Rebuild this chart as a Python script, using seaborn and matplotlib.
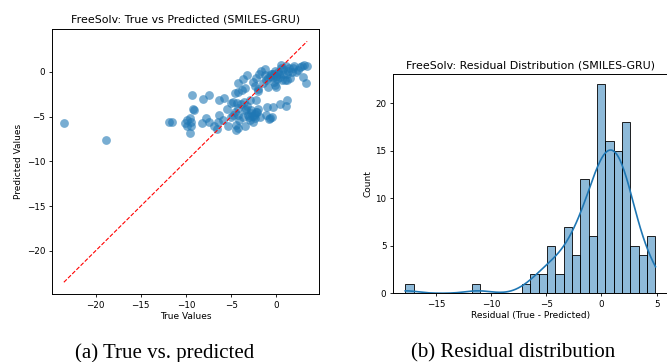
import numpy as np
import pandas as pd
import matplotlib
matplotlib.use("Agg")
import matplotlib.pyplot as plt
import seaborn as sns

# ---- data ----
true_values = [
    -23.5, -18.8,
    -11.9, -11.5, -9.3, -9.2, -9.1, -8.1, -7.4, -9.9, -9.6, -9.4,
    -9.9, -9.4, -9.6, -8.2, -7.8, -7.4, -6.9, -6.6, -6.5, -6.3,
    -5.8, -10.1, -6.3, -5.9, -5.5, -5.3, -5.0, -5.0, -4.5, -4.6,
    -4.3, -4.2, -3.7, -3.2, -4.8, -4.4, -4.5, -4.6, -4.8, -3.8,
    -3.5, -2.6, -2.3, -1.9, -1.7, -2.4, -1.3, -1.3, -1.5, -0.9,
    -0.6, -0.4, -0.3, -0.1, 0.0, 0.2, 0.4, 0.5, 0.5, 0.7,
    1.1, 1.3, 1.5, 1.8, 2.0, 2.4, 2.8, 3.1, 2.9, 3.3,
    -0.2, -0.9, -1.1, 0.9, 0.0, 0.3, 1.2, 1.2, 1.4, 1.7,
    2.2, 3.4, 2.6, -0.5, 0.7, -0.3, 0.1, -0.7, 0.6, -2.0,
    -4.2, -3.9, -3.3, -2.9, -3.5, -2.8, -2.2, -2.0, -2.4, -3.1,
    -3.7, -4.1, -4.2, -2.9, -2.4, -2.6, -1.8, -3.5, -4.3, -1.0,
    -0.4, 0.4, 1.1, 1.2, -1.1, -0.7, -0.5, -0.8, -2.7, -2.3,
    -3.0, -2.5, -2.1, -2.8, -3.4, -3.6, -2.0,
]
predicted_values = [
    -5.7, -7.6,
    -5.6, -5.6, -2.6, -4.1, -4.3, -3.0, -2.6, -5.4, -5.2, -5.6,
    -6.1, -6.1, -6.8, -5.7, -5.2, -5.6, -6.1, -6.4, -5.6, -3.2,
    -2.9, -5.7, -4.8, -5.4, -4.2, -6.1, -3.5, -5.0, -6.5, -2.4,
    -2.3, -1.2, -0.8, -0.4, -3.4, -3.5, -5.9, -4.5, -4.8, -2.0,
    -1.8, -1.1, -0.7, -0.3, 0.1, -1.6, 0.3, -0.4, -1.3, -1.7,
    -0.3, -0.6, -1.1, -1.5, -0.5, 0.0, -0.6, 0.4, 0.8, -0.2,
    0.6, 0.1, -0.7, 0.4, 0.7, 0.2, 0.7, 0.8, -0.6, -1.2,
    0.1, -0.7, -0.9, -0.9, -1.7, -0.3, -0.9, -0.3, 0.4, 0.0,
    0.0, 0.6, 0.5, -0.2, 0.3, -0.3, -0.8, -0.5, -0.9, -1.9,
    -4.0, -3.6, -3.8, -3.2, -4.3, -4.3, -3.2, -4.1, -4.7, -4.8,
    -5.0, -5.4, -4.8, -5.4, -5.2, -5.6, -5.0, -6.0, -6.3, -3.9,
    -3.9, -3.6, -3.8, -3.2, -4.8, -5.2, -5.0, -5.3, -4.9, -4.5,
    -5.1, -4.9, -4.5, -4.6, -4.2, -3.4, -2.2,
]

title_left = "FreeSolv: True vs Predicted (SMILES-GRU)"
title_right = "FreeSolv: Residual Distribution (SMILES-GRU)"
caption_left = "(a) True vs. predicted"
caption_right = "(b) Residual distribution"

df = pd.DataFrame({"true": true_values, "pred": predicted_values})
df["residual"] = df["true"] - df["pred"]

W, H = 667, 362
fig = plt.figure(figsize=(W / 100, H / 100), dpi=100)
fig.patch.set_facecolor("white")

def box(x0, y0, x1, y1):
    return [x0 / W, 1 - y1 / H, (x1 - x0) / W, (y1 - y0) / H]

TICK = 6.3
LAB = 6.5
TTL = 7.9

# ---- left: scatter true vs predicted ----
ax1 = fig.add_axes(box(51.7, 29.3, 319.3, 294.3))
sns.scatterplot(data=df, x="true", y="pred", ax=ax1, alpha=0.6,
                s=40, linewidth=0, color="#1f77b4")
lo, hi = df["true"].min(), df["true"].max()
ax1.plot([lo, hi], [lo, hi], "r--", lw=0.8)
ax1.set_xlabel("True Values", fontsize=LAB, labelpad=2)
ax1.set_ylabel("Predicted Values", fontsize=LAB, labelpad=3)
ax1.set_title(title_left, fontsize=TTL, pad=5)
ax1.tick_params(labelsize=TICK, length=2.5, width=0.6, pad=2)
for s in ax1.spines.values():
    s.set_linewidth(0.7)

# ---- right: residual histogram ----
ax2 = fig.add_axes(box(392.7, 74, 668, 293.3))
sns.histplot(data=df, x="residual", bins=30, kde=True, ax=ax2,
             color="#1f77b4", edgecolor="black", linewidth=0.6,
             line_kws={"linewidth": 1.2})
ax2.set_xlabel("Residual (True - Predicted)", fontsize=LAB, labelpad=2)
ax2.set_ylabel("Count", fontsize=LAB, labelpad=2)
ax2.set_title(title_right, fontsize=TTL, pad=4)
ax2.tick_params(labelsize=TICK, length=2.5, width=0.6, pad=2)
for s in ax2.spines.values():
    s.set_linewidth(0.7)

# ---- captions ----
fig.text(164.7 / W, 1 - 353 / H, caption_left, ha="center", va="center",
         fontsize=15, family="Liberation Serif")
fig.text(513 / W, 1 - 353 / H, caption_right, ha="center", va="center",
         fontsize=15, family="Liberation Serif")

fig.savefig("out.png", dpi=100)
